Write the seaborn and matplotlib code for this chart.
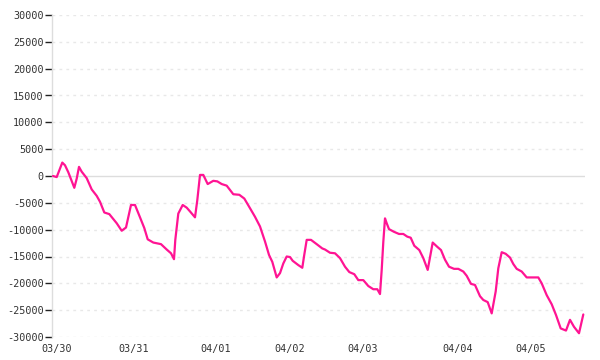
import matplotlib
matplotlib.use("Agg")
import matplotlib.pyplot as plt
import seaborn as sns
import pandas as pd
import numpy as np

# x position (sample index along the axis) and value
pos = [1, 4.7, 10.3, 13, 16.3, 19, 22.3, 24.7, 27, 29.7, 34.7, 39.7, 44.7, 48, 52.3, 57.3,
       64.7, 69.7, 74, 79, 83, 88, 92.3, 95.7, 101.3, 109, 114.7, 119, 122, 123.3, 126.3, 130.7,
       134.7, 138, 143, 145.3, 148, 151.3, 155.7, 161.3, 165.3, 169.7, 174.7, 181.3, 187.3, 192.3,
       198, 203, 208, 213, 217, 220.3, 224.7, 228, 231.3, 234.7, 238, 240.7, 246.3, 250.3, 252, 254.7,
       259, 264.7, 270.3, 273, 278, 283, 288, 293, 297.3, 302.3, 306.3, 311.3, 316.3, 321.3, 325.3,
       328, 329.7, 331.3, 333, 334.7, 337, 342, 347, 351.3, 355.3, 358.7, 362.3, 367.3, 371.3, 375.7,
       380.7, 385.3, 389, 393, 397, 402, 406.3, 411.3, 414.7, 419, 423, 428, 431.3, 435.7, 439.7,
       443.7, 446.3, 449.7, 453.7, 458, 461.3, 464.7, 469.7, 474.7, 486.3, 489.7, 494.7, 499.7, 504, 508.7,
       514, 518, 522, 527, 531.3]
values = [0, -200, 2500, 2000, 700, -600, -2200, -500, 1700, 800, -400, -2500, -3700, -4800, -6800, -7100,
          -8800, -10200, -9600, -5400, -5400, -7700, -9700, -11800, -12400, -12700, -13700, -14400, -15500, -11900, -7000, -5400,
          -5900, -6600, -7700, -4500, 200, 200, -1500, -900, -1000, -1500, -1800, -3400, -3500, -4200,
          -6000, -7600, -9400, -12200, -14700, -16000, -18900, -18100, -16300, -15000, -15100, -15800, -16600, -17100, -15000, -11900,
          -11900, -12700, -13500, -13700, -14300, -14400, -15300, -16900, -17900, -18300, -19400, -19400, -20500, -21100, -21100,
          -22000, -17500, -12300, -7900, -8800, -9900, -10400, -10800, -10800, -11300, -11500, -13000, -13800, -15300, -17500,
          -12400, -13200, -13800, -15600, -16900, -17300, -17300, -17800, -18600, -20100, -20300, -22400, -23100, -23500, -25600,
          -21500, -17200, -14200, -14500, -15200, -16400, -17300, -17800, -18900, -18900, -20000, -22200, -23900, -25900, -28400,
          -28800, -26800, -28100, -29300, -25800]

tick_pos = [4.5, 82, 164, 238, 310.5, 405.5, 478.5]
tick_labels = ["03/30", "03/31", "04/01", "04/02", "04/03", "04/04", "04/05"]
y_ticks = [30000, 25000, 20000, 15000, 10000, 5000, 0, -5000, -10000, -15000, -20000, -25000, -30000]

n = min(len(pos), len(values))
df = pd.DataFrame({"x": pos[:n], "y": values[:n]})

sns.set_style("white")
plt.rcParams['font.family'] = ['DejaVu Sans Mono']

fig = plt.figure(figsize=(6, 3.6), dpi=100)
ax = fig.add_axes([52/600, (360-337)/360, (585-52)/600, (337-15)/360])

for t in y_ticks:
    if t == 0:
        ax.axhline(t, color="#dddddd", lw=1.0, zorder=1)
    else:
        ax.axhline(t, color="#e8e8e8", lw=1.0, ls=(0, (2, 3)), zorder=1)

sns.lineplot(data=df, x="x", y="y", color="#ff1493", lw=1.6, ax=ax, zorder=3)

ax.set_xlim(0, 533)
ax.set_ylim(-30000, 30000)
ax.set_yticks(y_ticks)
ax.set_yticklabels([str(t) for t in y_ticks])
ax.set_xticks(tick_pos)
ax.set_xticklabels(tick_labels)
ax.set_xlabel("")
ax.set_ylabel("")
for s in ["top", "right", "bottom"]:
    ax.spines[s].set_visible(False)
ax.spines["left"].set_color("#dddddd")
ax.spines["left"].set_linewidth(1.0)
ax.tick_params(axis="y", left=True, length=5, width=1, color="#222222", labelsize=7.3, labelcolor="#333333", pad=1, direction="out")
ax.tick_params(axis="x", bottom=False, length=0, labelsize=7.3, labelcolor="#333333", pad=5)

fig.savefig("out.png", dpi=100)
